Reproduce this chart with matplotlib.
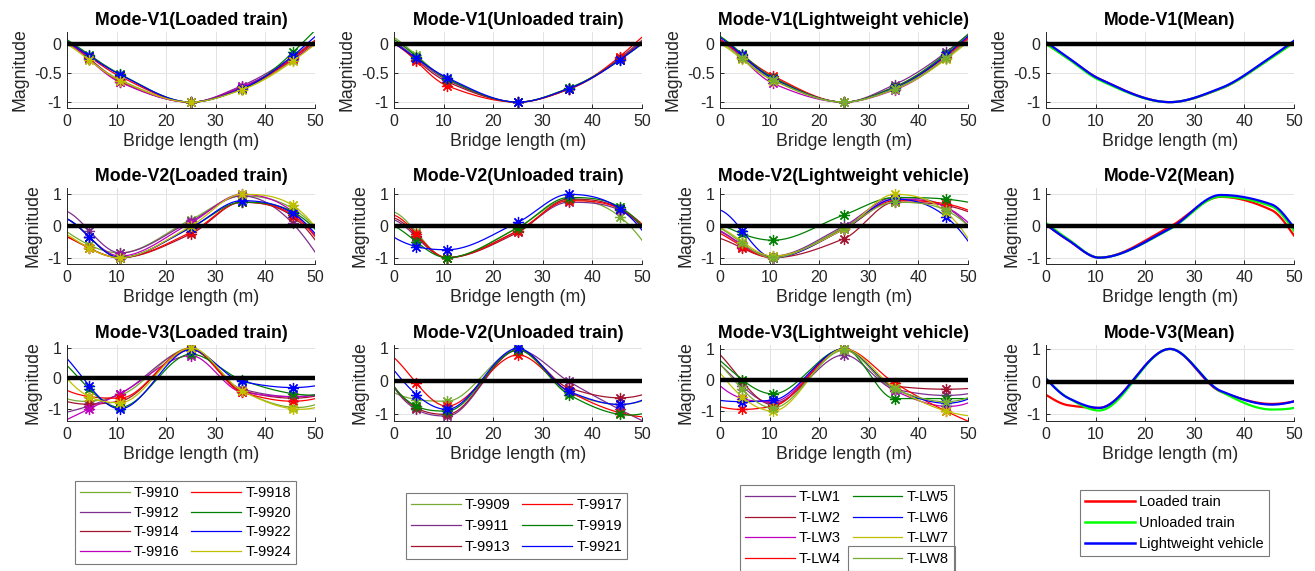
import numpy as np
import matplotlib
matplotlib.use('Agg')
import matplotlib.pyplot as plt
from matplotlib.patches import Rectangle
from matplotlib.lines import Line2D

plt.rcParams['font.family'] = ['Liberation Sans', 'DejaVu Sans']
plt.rcParams['axes.unicode_minus'] = False

# ---------------- data ----------------
sensor_x = [4.5, 10.7, 25.0, 35.2, 45.5]
mean_x = [0.0, 4.5, 10.7, 25.0, 35.2, 45.5, 50.0]

loaded_labels = ['T-9910', 'T-9912', 'T-9914', 'T-9916', 'T-9918', 'T-9920', 'T-9922', 'T-9924']
unloaded_labels = ['T-9909', 'T-9911', 'T-9913', 'T-9917', 'T-9919', 'T-9921']
lw_labels = ['T-LW1', 'T-LW2', 'T-LW3', 'T-LW4', 'T-LW5', 'T-LW6', 'T-LW7', 'T-LW8']
mean_labels = ['Loaded train', 'Unloaded train', 'Lightweight vehicle']

# Loaded train, values at sensor_x
loaded_v1 = [
    [-0.27, -0.62, -1.00, -0.78, -0.28],
    [-0.25, -0.64, -1.00, -0.72, -0.22],
    [-0.26, -0.65, -1.00, -0.75, -0.25],
    [-0.27, -0.66, -1.00, -0.74, -0.27],
    [-0.22, -0.56, -1.00, -0.77, -0.25],
    [-0.19, -0.52, -1.00, -0.78, -0.15],
    [-0.21, -0.53, -1.00, -0.77, -0.21],
    [-0.28, -0.63, -1.00, -0.79, -0.30],
]
loaded_v2 = [
    [-0.60, -0.85, 0.20, 0.95, 0.55],
    [-0.15, -0.85, 0.15, 0.95, 0.08],
    [-0.70, -1.00, -0.25, 0.75, 0.30],
    [-0.35, -0.95, 0.10, 1.00, 0.45],
    [-0.70, -1.00, -0.20, 0.75, 0.35],
    [-0.35, -1.00, -0.05, 0.75, 0.45],
    [-0.35, -1.00, -0.05, 0.80, 0.40],
    [-0.70, -1.00, 0.00, 1.00, 0.65],
]
loaded_v3 = [
    [-0.75, -0.55, 1.00, -0.40, -0.95],
    [-0.90, -0.50, 0.95, -0.35, -0.60],
    [-0.85, -0.75, 0.95, -0.40, -0.65],
    [-1.00, -0.50, 0.75, -0.45, -0.60],
    [-0.60, -0.65, 1.00, -0.45, -0.75],
    [-0.35, -0.95, 0.80, -0.05, -0.50],
    [-0.25, -1.00, 0.95, -0.10, -0.30],
    [-0.60, -0.80, 1.00, -0.40, -1.00],
]

# Unloaded train
unloaded_v1 = [
    [-0.20, -0.60, -1.00, -0.78, -0.25],
    [-0.25, -0.62, -1.00, -0.77, -0.25],
    [-0.28, -0.65, -1.00, -0.78, -0.27],
    [-0.30, -0.72, -1.00, -0.78, -0.22],
    [-0.22, -0.60, -1.00, -0.76, -0.28],
    [-0.25, -0.58, -1.00, -0.77, -0.28],
]
unloaded_v2 = [
    [-0.20, -1.00, -0.05, 0.85, 0.30],
    [-0.35, -1.00, -0.15, 0.75, 0.50],
    [-0.30, -1.00, -0.20, 0.85, 0.55],
    [-0.25, -1.00, -0.15, 0.80, 0.55],
    [-0.50, -1.00, -0.05, 0.90, 0.60],
    [-0.65, -0.75, 0.12, 1.00, 0.55],
]
unloaded_v3 = [
    [-0.55, -0.60, 0.95, -0.35, -0.70],
    [-0.85, -1.05, 0.95, 0.00, -0.85],
    [-0.80, -1.00, 0.95, -0.20, -0.50],
    [-0.05, -0.75, 0.80, -0.30, -0.95],
    [-0.75, -0.90, 0.95, -0.40, -1.00],
    [-0.40, -0.85, 1.00, -0.30, -0.70],
]

# Lightweight vehicle
lw_v1 = [
    [-0.22, -0.60, -1.00, -0.70, -0.15],
    [-0.22, -0.58, -1.00, -0.74, -0.20],
    [-0.25, -0.68, -1.00, -0.79, -0.25],
    [-0.20, -0.55, -1.00, -0.76, -0.22],
    [-0.18, -0.58, -1.00, -0.74, -0.17],
    [-0.20, -0.60, -1.00, -0.76, -0.20],
    [-0.27, -0.63, -1.00, -0.78, -0.27],
    [-0.25, -0.62, -1.00, -0.77, -0.25],
]
lw_v2 = [
    [-0.60, -0.95, 0.00, 0.90, 0.60],
    [-0.70, -1.00, -0.40, 0.75, 0.65],
    [-0.60, -1.00, -0.05, 0.85, 0.60],
    [-0.65, -1.00, -0.10, 0.80, 0.70],
    [-0.25, -0.45, 0.35, 0.90, 0.85],
    [-0.15, -1.00, -0.10, 0.85, 0.30],
    [-0.50, -0.95, -0.10, 1.00, 0.45],
    [-0.55, -1.00, -0.05, 0.75, 0.50],
]
lw_v3 = [
    [-0.20, -0.75, 0.80, -0.30, -0.50],
    [-0.05, -0.80, 1.00, -0.20, -0.30],
    [-0.60, -0.70, 1.00, -0.35, -0.85],
    [-0.95, -0.85, 1.00, -0.10, -1.00],
    [0.00, -0.45, 1.00, -0.60, -0.60],
    [-0.70, -0.65, 1.00, -0.30, -0.75],
    [-0.55, -1.00, 1.00, -0.25, -1.00],
    [-0.30, -0.90, 0.95, -0.30, -0.70],
]

# Mean curves, values at mean_x
mean_v1 = [
    [0.00, -0.25, -0.60, -1.00, -0.77, -0.23, 0.03],
    [0.00, -0.26, -0.62, -1.00, -0.77, -0.24, 0.02],
    [0.03, -0.24, -0.60, -1.00, -0.76, -0.22, 0.05],
]
mean_v2 = [
    [0.05, -0.45, -1.00, -0.02, 0.92, 0.50, -0.30],
    [0.10, -0.42, -1.00, -0.10, 0.93, 0.62, -0.15],
    [0.05, -0.45, -1.00, -0.08, 0.98, 0.68, -0.05],
]
mean_v3 = [
    [-0.40, -0.72, -0.80, 1.00, -0.30, -0.68, -0.60],
    [0.10, -0.50, -0.88, 1.00, -0.30, -0.85, -0.80],
    [0.10, -0.50, -0.80, 1.00, -0.28, -0.70, -0.60],
]

# ---------------- styles ----------------
C_YG = '#77AC30'; C_PU = '#7E2F8E'; C_DR = '#A2142F'; C_MA = '#BF00BF'
C_RE = '#FF0000'; C_GR = '#008000'; C_BL = '#0000FF'; C_OL = '#BFBF00'
loaded_colors = [C_YG, C_PU, C_DR, C_MA, C_RE, C_GR, C_BL, C_OL]
unloaded_colors = [C_YG, C_PU, C_DR, C_RE, C_GR, C_BL]
lw_colors = [C_PU, C_DR, C_MA, C_RE, C_GR, C_BL, C_OL, C_YG]
mean_colors = ['#FF0000', '#00FF00', '#0000FF']

TXT = '#262626'
ASTERISK = (8, 2, 0)


def smooth(xk, yk, xs):
    """Shape-preserving piecewise cubic (as MATLAB pchip) used to draw a curve through the values."""
    x = np.asarray(xk, float)
    y = np.asarray(yk, float)
    xs = np.asarray(xs, float)
    n = len(x)
    h = np.diff(x)
    delta = np.diff(y) / h
    d = np.zeros(n)
    for k in range(1, n - 1):
        if delta[k - 1] * delta[k] > 0:
            w1 = 2 * h[k] + h[k - 1]
            w2 = h[k] + 2 * h[k - 1]
            d[k] = (w1 + w2) / (w1 / delta[k - 1] + w2 / delta[k])

    def end_slope(h0, h1, del0, del1):
        dd = ((2 * h0 + h1) * del0 - h0 * del1) / (h0 + h1)
        if np.sign(dd) != np.sign(del0):
            dd = 0.0
        elif np.sign(del0) != np.sign(del1) and abs(dd) > abs(3 * del0):
            dd = 3 * del0
        return dd

    d[0] = end_slope(h[0], h[1], delta[0], delta[1])
    d[-1] = end_slope(h[-1], h[-2], delta[-1], delta[-2])
    idx = np.clip(np.searchsorted(x, xs) - 1, 0, n - 2)
    t = xs - x[idx]
    hk = h[idx]
    c2 = (3 * delta[idx] - 2 * d[idx] - d[idx + 1]) / hk
    c3 = (d[idx] - 2 * delta[idx] + d[idx + 1]) / hk ** 2
    return y[idx] + d[idx] * t + c2 * t ** 2 + c3 * t ** 3


W, H = 1315, 571
fig = plt.figure(figsize=(W / 100, H / 100), dpi=100)

col_left = [67, 394, 720, 1046]
col_w = 248
row_top = [32, 188, 345]
row_h = 76

titles = [
    ['Mode-V1(Loaded train)', 'Mode-V1(Unloaded train)', 'Mode-V1(Lightweight vehicle)', 'Mode-V1(Mean)'],
    ['Mode-V2(Loaded train)', 'Mode-V2(Unloaded train)', 'Mode-V2(Lightweight vehicle)', 'Mode-V2(Mean)'],
    ['Mode-V3(Loaded train)', 'Mode-V2(Unloaded train)', 'Mode-V3(Lightweight vehicle)', 'Mode-V3(Mean)'],
]
ylims = [
    [(-1.1, 0.2)] * 4,
    [(-1.2, 1.2)] * 4,
    [(-1.4, 1.1), (-1.2, 1.1), (-1.32, 1.12), (-1.2, 1.12)],
]
yticks = [[-1, -0.5, 0], [-1, 0, 1], [-1, 0, 1]]

groups = [
    (loaded_colors, [loaded_v1, loaded_v2, loaded_v3]),
    (unloaded_colors, [unloaded_v1, unloaded_v2, unloaded_v3]),
    (lw_colors, [lw_v1, lw_v2, lw_v3]),
]
means = [mean_v1, mean_v2, mean_v3]

xs = np.linspace(0, 50, 501)
legend_handles = {}

for r in range(3):
    for c in range(4):
        ax = fig.add_axes([col_left[c] / W, 1 - (row_top[r] + row_h) / H, col_w / W, row_h / H])
        handles = []
        if c < 3:
            colors, modes = groups[c]
            for vals, col in zip(modes[r], colors):
                h, = ax.plot(xs, smooth(sensor_x, vals, xs), color=col, lw=0.9, zorder=2)
                ax.plot(sensor_x, vals, ls='none', marker=ASTERISK, ms=8, mew=0.9, color=col, zorder=2)
                handles.append(h)
        else:
            for vals, col in zip(means[r], mean_colors):
                h, = ax.plot(xs, smooth(mean_x, vals, xs), color=col, lw=1.6, zorder=2)
                handles.append(h)
        legend_handles[c] = handles
        ax.plot([0, 50], [0, 0], color='black', lw=3.2, zorder=3, solid_capstyle='butt')
        ax.set_xlim(0, 50)
        ax.set_ylim(*ylims[r][c])
        ax.set_xticks([0, 10, 20, 30, 40, 50])
        ax.set_yticks(yticks[r])
        ax.set_yticklabels([('%g' % v) for v in yticks[r]])
        ax.grid(True, color='#e3e3e3', lw=0.7)
        ax.set_axisbelow(True)
        for s in ['top', 'right']:
            ax.spines[s].set_visible(False)
        for s in ['left', 'bottom']:
            ax.spines[s].set_color(TXT)
            ax.spines[s].set_linewidth(0.7)
        ax.tick_params(direction='in', length=3, width=0.7, colors=TXT, labelsize=11.5, pad=4)
        ax.set_title(titles[r][c], fontsize=12.8, fontweight='bold', pad=5, color='black')
        ax.set_xlabel('Bridge length (m)', fontsize=12.8, color=TXT, labelpad=3)
        ax.set_ylabel('Magnitude', fontsize=12.8, color=TXT, labelpad=4)

leg_kw = dict(fontsize=10.5, frameon=True, fancybox=False, framealpha=1, edgecolor='#7a7a7a',
              handlelength=3.4, handletextpad=0.3, columnspacing=0.8, borderpad=0.35,
              loc='upper left', borderaxespad=0)


def add_legend(handles, labels, x, y, ncol, spacing, lw=None):
    hs = [Line2D([], [], color=h.get_color(), lw=(lw if lw else h.get_linewidth())) for h in handles]
    leg = fig.legend(hs, labels, ncol=ncol, bbox_to_anchor=(x / W, 1 - y / H),
                     labelspacing=spacing, **leg_kw)
    leg.get_frame().set_linewidth(0.8)
    return leg


add_legend(legend_handles[0], loaded_labels, 75, 481, 2, 0.38)
add_legend(legend_handles[1], unloaded_labels, 406, 493, 2, 0.48)
add_legend(legend_handles[2], lw_labels, 740, 485, 2, 0.45)
add_legend(legend_handles[3], mean_labels, 1080, 490, 1, 0.48, lw=1.8)

# stray inner box seen around the last legend entry of the lightweight legend
fig.patches.append(Rectangle((848 / W, -0.01), (955 - 848) / W, (H - 546) / H + 0.01,
                             transform=fig.transFigure, fill=False, edgecolor='#7a7a7a',
                             lw=0.8, zorder=10))

fig.savefig('out.png', dpi=100)
